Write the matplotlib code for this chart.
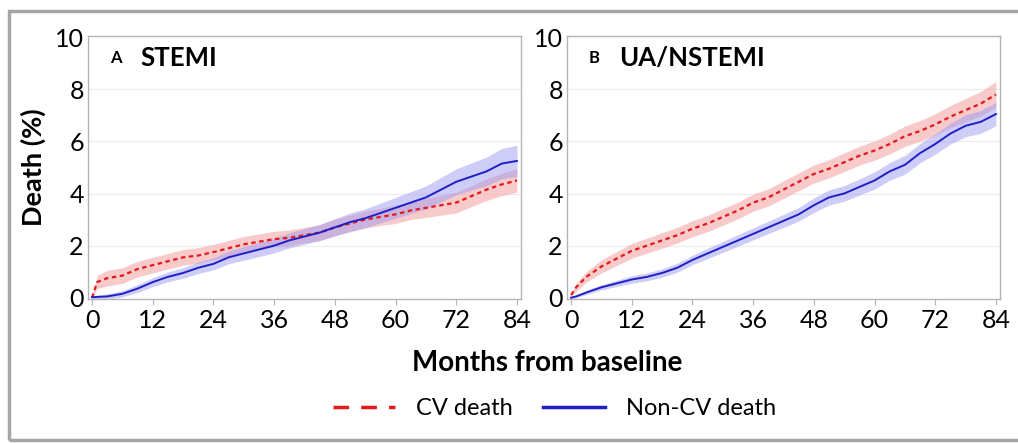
import matplotlib
matplotlib.use("Agg")
import matplotlib.pyplot as plt
from matplotlib.lines import Line2D
from matplotlib.patches import Rectangle

plt.rcParams["font.family"] = ["Lato", "DejaVu Sans"]

# months from baseline
months = [0, 1, 3, 6, 9, 12, 15, 18, 21, 24, 27, 30, 33, 36, 39, 42, 45, 48,
          51, 54, 57, 60, 63, 66, 69, 72, 75, 78, 81, 84]

# panel A: STEMI
stemi_cv = [0.0, 0.6, 0.75, 0.85, 1.1, 1.25, 1.4, 1.55, 1.62, 1.75, 1.9, 2.05,
            2.15, 2.25, 2.3, 2.4, 2.5, 2.7, 2.85, 3.0, 3.1, 3.2, 3.35, 3.45,
            3.55, 3.65, 3.9, 4.15, 4.35, 4.5]
stemi_cv_err = [0.05, 0.25, 0.3, 0.3, 0.3, 0.3, 0.3, 0.3, 0.3, 0.3, 0.3, 0.3,
                0.3, 0.3, 0.3, 0.3, 0.3, 0.32, 0.32, 0.33, 0.33, 0.35, 0.35,
                0.37, 0.38, 0.4, 0.4, 0.42, 0.43, 0.45]
stemi_noncv = [0.02, 0.03, 0.05, 0.15, 0.35, 0.6, 0.8, 0.95, 1.15, 1.3, 1.55,
               1.7, 1.85, 2.0, 2.2, 2.35, 2.5, 2.7, 2.9, 3.05, 3.25, 3.45, 3.65,
               3.85, 4.15, 4.45, 4.65, 4.85, 5.15, 5.25]
stemi_noncv_err = [0.05, 0.07, 0.1, 0.12, 0.15, 0.17, 0.19, 0.2, 0.22, 0.23,
                   0.25, 0.26, 0.27, 0.28, 0.29, 0.3, 0.31, 0.33, 0.35, 0.36,
                   0.38, 0.4, 0.42, 0.44, 0.47, 0.5, 0.52, 0.55, 0.58, 0.6]

# panel B: UA/NSTEMI
nstemi_cv = [0.1, 0.4, 0.8, 1.2, 1.5, 1.8, 2.0, 2.2, 2.4, 2.65, 2.85, 3.1,
             3.35, 3.65, 3.85, 4.15, 4.45, 4.75, 4.95, 5.2, 5.45, 5.65, 5.9,
             6.2, 6.4, 6.65, 6.95, 7.2, 7.45, 7.8]
nstemi_cv_err = [0.05, 0.15, 0.2, 0.25, 0.27, 0.28, 0.29, 0.3, 0.3, 0.31,
                 0.31, 0.32, 0.32, 0.33, 0.33, 0.34, 0.34, 0.35, 0.35, 0.36,
                 0.36, 0.37, 0.38, 0.39, 0.4, 0.41, 0.43, 0.45, 0.47, 0.5]
nstemi_noncv = [0.0, 0.05, 0.2, 0.4, 0.55, 0.7, 0.8, 0.95, 1.15, 1.45, 1.7,
                1.95, 2.2, 2.45, 2.7, 2.95, 3.2, 3.55, 3.85, 4.0, 4.25, 4.5,
                4.85, 5.1, 5.55, 5.9, 6.3, 6.6, 6.75, 7.05]
nstemi_noncv_err = [0.03, 0.05, 0.08, 0.1, 0.12, 0.14, 0.15, 0.16, 0.17, 0.18,
                    0.2, 0.21, 0.22, 0.23, 0.24, 0.25, 0.26, 0.28, 0.29, 0.3,
                    0.31, 0.33, 0.34, 0.36, 0.37, 0.39, 0.4, 0.42, 0.44, 0.45]

x_ticks = [0, 12, 24, 36, 48, 60, 72, 84]
y_ticks = [0, 2, 4, 6, 8, 10]

RED = "#e3191c"
BLUE = "#1f1fc8"
RED_BAND = "#f4a0a0"
BLUE_BAND = "#9c9cf0"
SPINE = "#b4b4b4"

fig = plt.figure(figsize=(10.18, 4.43), dpi=100)

# gray frame around the whole figure
fig.patches.append(Rectangle((0.009, 0.006), 1.2, 0.969, transform=fig.transFigure,
                             fill=False, edgecolor="#a6a6a6", linewidth=2.5))


def draw_panel(ax, letter, title, cv, cv_err, noncv, noncv_err):
    cv_lo = [v - e for v, e in zip(cv, cv_err)]
    cv_hi = [v + e for v, e in zip(cv, cv_err)]
    nc_lo = [v - e for v, e in zip(noncv, noncv_err)]
    nc_hi = [v + e for v, e in zip(noncv, noncv_err)]
    ax.fill_between(months, cv_lo, cv_hi, color=RED_BAND, alpha=0.55, lw=0)
    ax.fill_between(months, nc_lo, nc_hi, color=BLUE_BAND, alpha=0.5, lw=0)
    ax.plot(months, cv, color=RED, lw=1.6, dashes=(2.0, 1.6))
    ax.plot(months, noncv, color=BLUE, lw=1.4)

    ax.set_xlim(-0.8, 84.8)
    ax.set_ylim(-0.05, 10.05)
    ax.set_xticks(x_ticks)
    ax.set_yticks(y_ticks)
    for y in y_ticks[1:-1]:
        ax.axhline(y, color="#ececec", lw=0.8, zorder=0)
    for s in ax.spines.values():
        s.set_color(SPINE)
        s.set_linewidth(1.0)
    ax.tick_params(axis="x", length=4, color=SPINE, labelsize=18, pad=3)
    ax.tick_params(axis="y", length=0, labelsize=18, pad=3)
    ax.text(0.05, 0.915, letter, transform=ax.transAxes, fontsize=12,
            fontweight="bold", va="center")
    ax.text(0.12, 0.915, title, transform=ax.transAxes, fontsize=18.5,
            fontweight="bold", va="center")


ax1 = fig.add_axes([0.0864, 0.325, 0.4254, 0.594])
ax2 = fig.add_axes([0.557, 0.325, 0.4253, 0.594])
draw_panel(ax1, "A", "STEMI", stemi_cv, stemi_cv_err, stemi_noncv, stemi_noncv_err)
draw_panel(ax2, "B", "UA/NSTEMI", nstemi_cv, nstemi_cv_err, nstemi_noncv, nstemi_noncv_err)

ax1.set_ylabel("Death (%)", fontsize=19.5, fontweight="bold", labelpad=6)
fig.text(0.538, 0.18, "Months from baseline", fontsize=20, fontweight="bold",
         ha="center", va="center")

handles = [Line2D([], [], color=RED, lw=2.5, dashes=(4.5, 3.5)),
           Line2D([], [], color=BLUE, lw=2.5)]
fig.legend(handles, ["CV death", "Non-CV death"], loc="center",
           bbox_to_anchor=(0.545, 0.078), ncol=2, frameon=False, fontsize=17,
           handlelength=2.6, columnspacing=1.3, handletextpad=0.9)

fig.savefig("out.png", dpi=100)
